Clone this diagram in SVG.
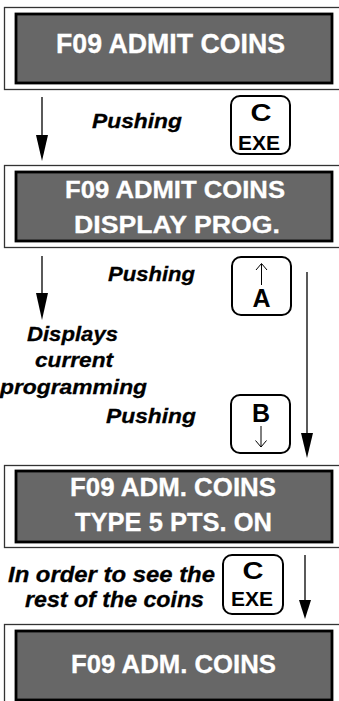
<svg xmlns="http://www.w3.org/2000/svg" width="339" height="701" viewBox="0 0 339 701">
  <style>
    .frame { fill: none; stroke: #333; stroke-width: 1.3; }
    .lcd { fill: #676767; stroke: #000; stroke-width: 2.8; }
    .lcdtxt { font-family: "Liberation Sans", Arial, sans-serif; font-weight: bold; fill: #fff; stroke: #fff; stroke-width: 0.3; }
    .lbl { font-family: "Liberation Sans", Arial, sans-serif; font-weight: bold; font-style: italic; fill: #000; stroke: #000; stroke-width: 0.3; }
    .key { fill: #fff; stroke: #000; stroke-width: 2; }
    .keytxt { font-family: "Liberation Sans", Arial, sans-serif; font-weight: bold; fill: #000; text-anchor: middle; }
    .wire { stroke: #000; stroke-width: 1.3; fill: none; }
    .head { fill: #000; }
    .thin { stroke: #000; stroke-width: 1; fill: none; }
  </style>
  <rect width="339" height="701" fill="#fff"/>

  <!-- display: F09 ADMIT COINS -->
  <g id="display-admit">
    <rect class="frame" x="4.5" y="7.5" width="340" height="82"/>
    <rect class="lcd" x="16" y="14" width="316" height="69"/>
    <text class="lcdtxt" x="56" y="53" font-size="27" textLength="229" lengthAdjust="spacingAndGlyphs">F09 ADMIT COINS</text>
  </g>

  <!-- display: F09 ADMIT COINS / DISPLAY PROG. -->
  <g id="display-prog">
    <rect class="frame" x="4.5" y="165.5" width="340" height="82"/>
    <rect class="lcd" x="16" y="172" width="316" height="69"/>
    <text class="lcdtxt" x="65" y="198" font-size="24" textLength="220" lengthAdjust="spacingAndGlyphs">F09 ADMIT COINS</text>
    <text class="lcdtxt" x="74" y="233" font-size="24" textLength="206" lengthAdjust="spacingAndGlyphs">DISPLAY PROG.</text>
  </g>

  <!-- display: F09 ADM. COINS / TYPE 5 PTS. ON -->
  <g id="display-type">
    <rect class="frame" x="4.5" y="465.5" width="340" height="82"/>
    <rect class="lcd" x="16" y="471" width="316" height="71"/>
    <text class="lcdtxt" x="70" y="496" font-size="26" textLength="206" lengthAdjust="spacingAndGlyphs">F09 ADM. COINS</text>
    <text class="lcdtxt" x="75" y="531" font-size="26" textLength="197" lengthAdjust="spacingAndGlyphs">TYPE 5 PTS. ON</text>
  </g>

  <!-- display: F09 ADM. COINS -->
  <g id="display-next">
    <rect class="frame" x="4.5" y="624.5" width="340" height="82"/>
    <rect class="lcd" x="16" y="631" width="316" height="69"/>
    <text class="lcdtxt" x="71" y="673" font-size="26" textLength="205" lengthAdjust="spacingAndGlyphs">F09 ADM. COINS</text>
  </g>

  <!-- keys -->
  <g id="key-exe-1">
    <rect class="key" x="231" y="96" width="59" height="58" rx="9"/>
    <text class="keytxt" x="261" y="121" font-size="23" textLength="21" lengthAdjust="spacingAndGlyphs">C</text>
    <text class="keytxt" x="259" y="150" font-size="21" textLength="42" lengthAdjust="spacingAndGlyphs">EXE</text>
  </g>
  <g id="key-a">
    <rect class="key" x="232" y="257" width="59" height="58" rx="9"/>
    <line class="thin" x1="261.5" y1="264" x2="261.5" y2="285"/>
    <polyline class="thin" points="256,270 261.5,263.5 267,270"/>
    <text class="keytxt" x="261.5" y="307" font-size="25">A</text>
  </g>
  <g id="key-b">
    <rect class="key" x="231" y="395" width="59" height="58" rx="9"/>
    <text class="keytxt" x="261" y="422" font-size="25">B</text>
    <line class="thin" x1="261" y1="426" x2="261" y2="447"/>
    <polyline class="thin" points="255.5,440.5 261,447 266.5,440.5"/>
  </g>
  <g id="key-exe-2">
    <rect class="key" x="223" y="555" width="60" height="59" rx="9"/>
    <text class="keytxt" x="253" y="579" font-size="23" textLength="21" lengthAdjust="spacingAndGlyphs">C</text>
    <text class="keytxt" x="252" y="606" font-size="21" textLength="42" lengthAdjust="spacingAndGlyphs">EXE</text>
  </g>

  <!-- labels -->
  <g id="labels">
    <text class="lbl" x="92" y="128" font-size="21" textLength="90" lengthAdjust="spacingAndGlyphs">Pushing</text>
    <text class="lbl" x="108" y="281" font-size="21" textLength="87" lengthAdjust="spacingAndGlyphs">Pushing</text>
    <text class="lbl" x="27" y="341" font-size="21" textLength="91" lengthAdjust="spacingAndGlyphs">Displays</text>
    <text class="lbl" x="35" y="367" font-size="21" textLength="78" lengthAdjust="spacingAndGlyphs">current</text>
    <text class="lbl" x="0" y="394" font-size="21" textLength="147" lengthAdjust="spacingAndGlyphs">programming</text>
    <text class="lbl" x="106" y="423" font-size="21" textLength="90" lengthAdjust="spacingAndGlyphs">Pushing</text>
    <text class="lbl" x="8" y="582" font-size="22" textLength="207" lengthAdjust="spacingAndGlyphs">In order to see the</text>
    <text class="lbl" x="25" y="607" font-size="22" textLength="179" lengthAdjust="spacingAndGlyphs">rest of the coins</text>
  </g>

  <!-- connectors -->
  <g id="connectors">
    <line class="wire" x1="42" y1="97" x2="42" y2="140"/>
    <polygon class="head" points="36,135 48,135 42,161"/>
    <line class="wire" x1="42" y1="256" x2="42" y2="298"/>
    <polygon class="head" points="36,293 48,293 42,320"/>
    <line class="wire" x1="307" y1="272" x2="307" y2="438"/>
    <polygon class="head" points="301,433 313,433 307,458"/>
    <line class="wire" x1="305" y1="555" x2="305" y2="604"/>
    <polygon class="head" points="299,600 311,600 305,619"/>
  </g>
</svg>
